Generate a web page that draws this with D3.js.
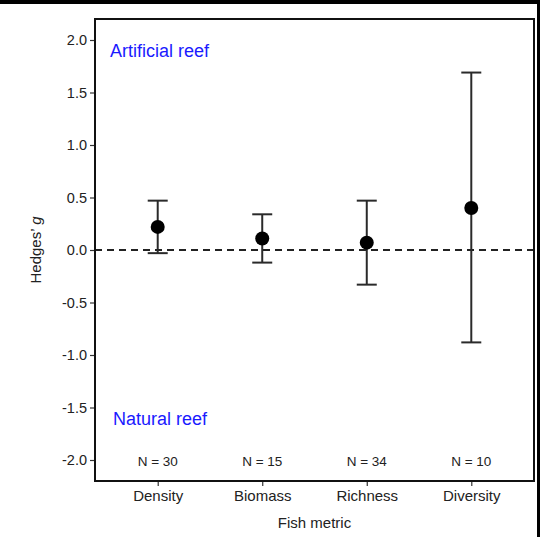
<!DOCTYPE html>
<html><head><meta charset="utf-8">
<script src="https://cdn.jsdelivr.net/npm/d3@7"></script>
<style>html,body{margin:0;padding:0;background:#fff;}svg{display:block;}</style>
</head><body>
<svg id="c" width="540" height="537"></svg>
<script>
const categories = ["Density", "Biomass", "Richness", "Diversity"];
const meanG = [0.22, 0.11, 0.07, 0.40];
const upperCI = [0.47, 0.34, 0.47, 1.69];
const lowerCI = [-0.03, -0.12, -0.33, -0.88];
const sampleN = ["N = 30", "N = 15", "N = 34", "N = 10"];
const yTicks = [-2.0, -1.5, -1.0, -0.5, 0.0, 0.5, 1.0, 1.5, 2.0];

const svg = d3.select("#c");
const font = "Liberation Sans, Arial, sans-serif";
const L = 95, R = 534, T = 19, B = 481;

// black frame strips
svg.append("rect").attr("x",0).attr("y",0).attr("width",540).attr("height",4).attr("fill","#000");
svg.append("rect").attr("x",537).attr("y",0).attr("width",3).attr("height",537).attr("fill","#000");

const x = d3.scalePoint().domain(categories).range([L, R]).padding(0.6);
const y = d3.scaleLinear().domain([-2.2, 2.2]).range([B, T]);

// y axis
const yAxis = svg.append("g").attr("transform", `translate(${L},0)`)
  .call(d3.axisLeft(y).tickValues(yTicks).tickFormat(d => d.toFixed(1)).tickSize(5).tickPadding(3));
yAxis.select(".domain").remove();
yAxis.selectAll("line").attr("stroke","#333").attr("stroke-width",1.2);
yAxis.selectAll("text").attr("font-family",font).attr("font-size",14.5).attr("fill","#222");

// x axis
const xAxis = svg.append("g").attr("transform", `translate(0,${B})`)
  .call(d3.axisBottom(x).tickSize(5).tickPadding(4));
xAxis.select(".domain").remove();
xAxis.selectAll("line").attr("stroke","#333").attr("stroke-width",1.2);
xAxis.selectAll("text").attr("font-family",font).attr("font-size",15).attr("fill","#222");

// zero line
svg.append("line").attr("x1",L).attr("x2",R).attr("y1",y(0)).attr("y2",y(0))
  .attr("stroke","#222").attr("stroke-width",2).attr("stroke-dasharray","7,5");

// error bars
const data = categories.map((c,i)=>({c, m:meanG[i], u:upperCI[i], l:lowerCI[i], n:sampleN[i]}));
const g = svg.append("g");
g.selectAll(".v").data(data).join("line")
  .attr("x1",d=>x(d.c)).attr("x2",d=>x(d.c)).attr("y1",d=>y(d.u)).attr("y2",d=>y(d.l))
  .attr("stroke","#2a2a2a").attr("stroke-width",2);
g.selectAll(".cu").data(data).join("line")
  .attr("x1",d=>x(d.c)-10).attr("x2",d=>x(d.c)+10).attr("y1",d=>y(d.u)).attr("y2",d=>y(d.u))
  .attr("stroke","#2a2a2a").attr("stroke-width",2);
g.selectAll(".cl").data(data).join("line")
  .attr("x1",d=>x(d.c)-10).attr("x2",d=>x(d.c)+10).attr("y1",d=>y(d.l)).attr("y2",d=>y(d.l))
  .attr("stroke","#2a2a2a").attr("stroke-width",2);
g.selectAll("circle").data(data).join("circle")
  .attr("cx",d=>x(d.c)).attr("cy",d=>y(d.m)).attr("r",7).attr("fill","#000");

// N labels
svg.selectAll(".nl").data(data).join("text")
  .attr("x",d=>x(d.c)).attr("y",466).attr("text-anchor","middle")
  .attr("font-family",font).attr("font-size",13.5).attr("fill","#222").text(d=>d.n);

// box
svg.append("rect").attr("x",L).attr("y",T).attr("width",R-L).attr("height",B-T)
  .attr("fill","none").attr("stroke","#111").attr("stroke-width",2);

// annotations
svg.append("text").attr("x",110).attr("y",57).attr("font-family",font).attr("font-size",18)
  .attr("fill","#1a1aff").text("Artificial reef");
svg.append("text").attr("x",113).attr("y",425).attr("font-family",font).attr("font-size",18)
  .attr("fill","#1a1aff").text("Natural reef");

// axis titles
svg.append("text").attr("x",(L+R)/2).attr("y",528).attr("text-anchor","middle")
  .attr("font-family",font).attr("font-size",15).attr("fill","#222").text("Fish metric");
const yt = svg.append("text").attr("transform",`translate(41,${y(0)}) rotate(-90)`)
  .attr("text-anchor","middle").attr("font-family",font).attr("font-size",15).attr("fill","#222");
yt.append("tspan").text("Hedges’ ");
yt.append("tspan").attr("font-style","italic").text("g");
</script>
</body></html>
